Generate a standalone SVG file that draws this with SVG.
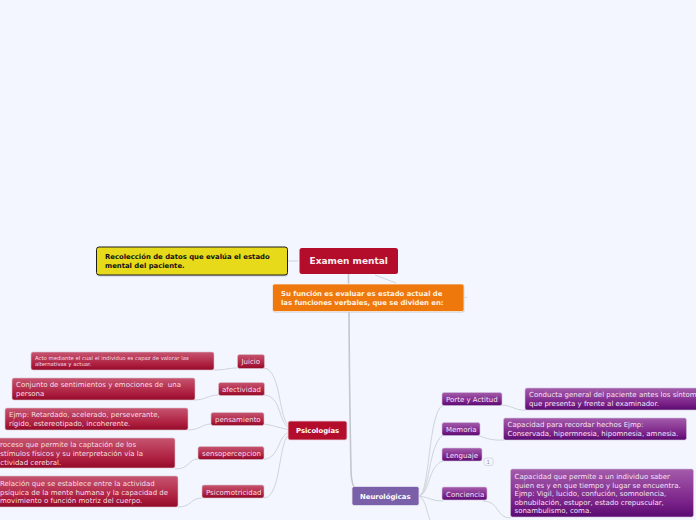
<svg xmlns="http://www.w3.org/2000/svg" width="696" height="520" viewBox="0 0 696 520">
<defs>
<linearGradient id="red" x1="0" y1="0" x2="0" y2="1"><stop offset="0" stop-color="#c65570"/><stop offset="0.7" stop-color="#ad1e3e"/><stop offset="1" stop-color="#930a27"/></linearGradient>
<linearGradient id="pur" x1="0" y1="0" x2="0" y2="1"><stop offset="0" stop-color="#a45cab"/><stop offset="0.7" stop-color="#7a2188"/><stop offset="1" stop-color="#590b70"/></linearGradient>
</defs>
<style>
text{font-family:"DejaVu Sans",sans-serif;font-size:7px;fill:#f6dfe6;white-space:pre}
.b{font-weight:bold;font-size:6.870px}
.s{font-size:5.330px}
.l{fill:none;stroke:#cfd3da;stroke-width:1}
.t{fill:none;stroke:#c3c6cc;stroke-width:1.600}
.r{fill:url(#red);stroke:#d9c3cc;stroke-width:.6}
.p{fill:url(#pur);stroke:#d0c0dc;stroke-width:.6}
.pt{fill:#f3e4f5}
.sh{fill:#c9ccd6}
</style>
<rect width="696" height="520" fill="#f3f6ff"/>
<g id="connectors">
<path class="t" d="M348.500 274V284M349 311Q349.500 400 351 470Q351.500 487 356 488"/>
<path class="l" d="M288 261H298M375 275L396 283M465 297.500H467"/>
<path class="l" d="M290 426C278 422 282 370 264 368M290 428C278 424 282 396 264 395M290 430C280 428 276 426 264 424M290 432C278 434 280 458 264 459.500M290 434C278 438 282 497 264 498"/>
<path class="l" d="M237 368C228 368 226 370 214 370M218 395C208 395 206 400 194 400M211 424C202 424 200 430 188 430M198 459C188 459 190 469 175 469M202 498C190 498 192 507 178 507"/>
<path class="l" d="M419 496C430 494 428 412 443 405M419 496C430 494 428 445 443 435M419 496C430 494 428 465 443 461M419 496C428 497 432 501 443 501M419 496C426 500 426 510 430 520"/>
<path class="l" d="M501 405C512 405 515 411 526 410M470 434C481 434 484 441 504 440M483 501C500 501 495 518 511 518"/>
</g>
<g id="n-datos"><rect x="97" y="248.500" width="191" height="28" rx="2.500" class="sh"/><rect x="96.500" y="247" width="191" height="28" rx="2.500" fill="#e7da1a" stroke="#1c1c1c" stroke-width="1"/><text x="105" y="259" class="b" style="fill:#111">Recolección de datos que evalúa el estado</text><text x="105" y="268" class="b" style="fill:#111">mental del paciente.</text></g>
<g id="n-root"><rect x="299.500" y="248" width="98.500" height="26" rx="2.500" fill="#b40c2b"/><text x="309.500" y="264" class="b" style="fill:#fbeef0;font-size:9px">Examen mental</text></g>
<g id="n-funcion"><rect x="273" y="285" width="191.500" height="27.500" rx="2" class="sh"/><rect x="272.500" y="284" width="191.500" height="27.500" rx="2" fill="#ef780c" stroke="#f4efe9" stroke-width=".8"/><text x="281" y="296" class="b" style="fill:#fff3e2">Su función es evaluar es estado actual de</text><text x="281" y="304.500" class="b" style="fill:#fff3e2">las funciones verbales, que se dividen en:</text></g>
<g id="n-psico"><rect x="288" y="421" width="59" height="19" rx="2" fill="#b40c2b" stroke="#e8d8dc" stroke-width=".8"/><text x="296" y="432.500" class="b" style="fill:#fff">Psicologías</text></g>
<g id="n-juicio"><rect x="237.500" y="354.500" width="27" height="14" rx="2" class="r"/><text x="241.500" y="364">Juicio</text></g>
<g id="n-juicio-d"><rect x="31" y="352" width="183" height="18" rx="2" class="r"/><text x="35" y="359.500" class="s">Acto mediante el cual el individuo es capaz de valorar las</text><text x="35" y="366" class="s">alternativas y actuar.</text></g>
<g id="n-afect"><rect x="218.500" y="382.500" width="46" height="13" rx="2" class="r"/><text x="222" y="392">afectividad</text></g>
<g id="n-afect-d"><rect x="12" y="378" width="183" height="22" rx="2" class="r"/><text x="16" y="387">Conjunto de sentimientos y emociones de  una</text><text x="16" y="396">persona</text></g>
<g id="n-pens"><rect x="211" y="412.500" width="53" height="13" rx="2" class="r"/><text x="215" y="422">pensamiento</text></g>
<g id="n-pens-d"><rect x="5" y="408" width="183" height="22" rx="2" class="r"/><text x="9" y="417">Ejmp: Retardado, acelerado, perseverante,</text><text x="9" y="426">rígido, estereotipado, incoherente.</text></g>
<g id="n-senso"><rect x="198" y="446.500" width="66" height="13" rx="2" class="r"/><text x="202" y="456">sensopercepcion</text></g>
<g id="n-senso-d"><rect x="-8" y="438" width="183" height="30" rx="2" class="r"/><text x="-4" y="447">Proceso que permite la captación de los</text><text x="-4" y="456">estímulos físicos y su interpretación vía la</text><text x="-4" y="464.500">actividad cerebral.</text></g>
<g id="n-psicom"><rect x="202" y="485" width="62" height="13" rx="2" class="r"/><text x="206" y="494.500">Psicomotricidad</text></g>
<g id="n-psicom-d"><rect x="-5" y="476" width="183" height="31" rx="2" class="r"/><text x="0" y="486">Relación que se establece entre la actividad</text><text x="0" y="494.500">psíquica de la mente humana y la capacidad de</text><text x="0" y="503">movimiento o función motriz del cuerpo.</text></g>
<g id="n-neuro"><rect x="352" y="486.500" width="67" height="19" rx="2" fill="#7a5fa9" stroke="#e8e4f0" stroke-width=".8"/><text x="360" y="498.500" class="b" style="fill:#fff">Neurológicas</text></g>
<g id="n-porte"><rect x="442" y="392.500" width="60" height="13" rx="2" class="p"/><text x="446" y="402" class="pt">Porte y Actitud</text></g>
<g id="n-porte-d"><rect x="525" y="388" width="180" height="22" rx="2" class="p"/><text x="529" y="397" class="pt">Conducta general del paciente antes los síntomas</text><text x="529" y="406" class="pt">que presenta y frente al examinador.</text></g>
<g id="n-mem"><rect x="442" y="422.500" width="38" height="13" rx="2" class="p"/><text x="446" y="432" class="pt">Memoria</text></g>
<g id="n-mem-d"><rect x="503.500" y="418" width="183" height="22" rx="2" class="p"/><text x="507.500" y="427" class="pt">Capacidad para recordar hechos Ejmp:</text><text x="507.500" y="436" class="pt">Conservada, hipermnesia, hipomnesia, amnesia.</text></g>
<g id="n-leng"><rect x="442" y="448" width="40" height="13" rx="2" class="p"/><text x="446" y="457.500" class="pt">Lenguaje</text><rect x="484" y="458" width="9" height="7.500" rx="2" fill="#f3f6ff" stroke="#cfd3da" stroke-width=".8"/><text x="486.500" y="464" style="font-size:5.500px;fill:#999">1</text></g>
<g id="n-conc"><rect x="442" y="487" width="45" height="13" rx="2" class="p"/><text x="446" y="496.500" class="pt">Conciencia</text></g>
<g id="n-conc-d"><rect x="510.500" y="469" width="183" height="48" rx="2" class="p"/><text x="514.500" y="479" class="pt">Capacidad que permite a un individuo saber</text><text x="514.500" y="487.500" class="pt">quien es y en que tiempo y lugar se encuentra.</text><text x="514.500" y="496" class="pt">Ejmp: Vigil, lucido, confución, somnolencia,</text><text x="514.500" y="504.500" class="pt">obnubilación, estupor, estado crepuscular,</text><text x="514.500" y="513" class="pt">sonambulismo, coma.</text></g>
</svg>
